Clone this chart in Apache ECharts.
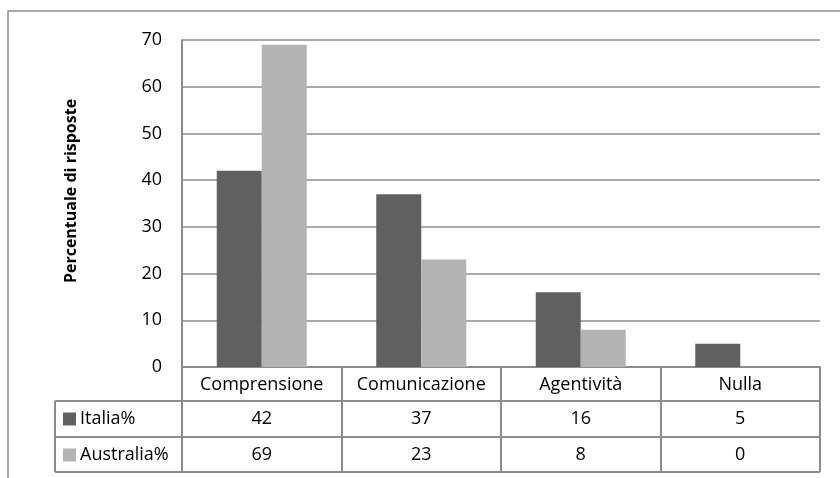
<!DOCTYPE html>
<html>
<head>
<meta charset="utf-8">
<script src="https://cdn.jsdelivr.net/npm/echarts@6/dist/echarts.min.js"></script>
<style>
  html, body { margin: 0; padding: 0; background: #ffffff; }
  #chart { width: 840px; height: 478px; }
</style>
</head>
<body>
<div id="chart"></div>
<script>
// Response categories and percentages per country
const categories = ['Comprensione', 'Comunicazione', 'Agentività', 'Nulla'];
const seriesNames = ['Italia%', 'Australia%'];
const italia = [42, 37, 16, 5];
const australia = [69, 23, 8, 0];
const yTicks = [0, 10, 20, 30, 40, 50, 60, 70];

const FONT = '"Open Sans", "Noto Sans", sans-serif';
const GRID = { left: 182, right: 20, top: 40, bottom: 111 };
const W = 840, H = 478;
const plotRight = W - GRID.right;
const axisY = H - GRID.bottom;          // y of the value 0 line / table top
const rowTops = [axisY + 34, axisY + 70, axisY + 105]; // data rows of the table
const legendColLeft = 55;
const lineColor = '#8c8c8c';

const chart = echarts.init(document.getElementById('chart'), null, { renderer: 'canvas' });

// Horizontal rules and the legend column border of the data table
const tableLines = [
  { shape: { x1: legendColLeft, y1: rowTops[0], x2: plotRight, y2: rowTops[0] } },
  { shape: { x1: legendColLeft, y1: rowTops[1], x2: plotRight, y2: rowTops[1] } },
  { shape: { x1: legendColLeft, y1: rowTops[2], x2: plotRight, y2: rowTops[2] } },
  { shape: { x1: legendColLeft, y1: rowTops[0], x2: legendColLeft, y2: rowTops[2] } }
].map(l => Object.assign({ type: 'line', silent: true, style: { stroke: lineColor, lineWidth: 2 } }, l));

function rowAxis(values, margin) {
  return {
    type: 'category',
    data: categories,
    position: 'bottom',
    axisLine: { show: false },
    axisTick: { show: false },
    axisLabel: {
      margin: margin,
      fontSize: 18,
      lineHeight: 24,
      color: '#000',
      fontFamily: FONT,
      formatter: (v, i) => String(values[i])
    }
  };
}

chart.setOption({
  animation: false,
  backgroundColor: '#ffffff',
  textStyle: { fontFamily: FONT },
  grid: GRID,
  legend: {
    data: seriesNames,
    orient: 'vertical',
    left: 63,
    top: rowTops[0] + 6,
    padding: 0,
    itemGap: 12,
    itemWidth: 13,
    itemHeight: 13,
    icon: 'rect',
    textStyle: { fontSize: 18, lineHeight: 24, color: '#000', fontFamily: FONT, padding: [0, 0, 0, -1] }
  },
  xAxis: [
    {
      type: 'category',
      data: categories,
      axisLine: { show: true, lineStyle: { color: lineColor, width: 2 } },
      axisTick: { show: true, length: rowTops[2] - axisY, lineStyle: { color: lineColor, width: 2 } },
      axisLabel: { margin: 6, fontSize: 18, lineHeight: 24, color: '#000', fontFamily: FONT, interval: 0 }
    },
    rowAxis(italia, 40),
    rowAxis(australia, 76)
  ],
  yAxis: {
    type: 'value',
    min: yTicks[0],
    max: yTicks[yTicks.length - 1],
    interval: yTicks[1] - yTicks[0],
    axisLine: { show: true, lineStyle: { color: lineColor, width: 2 } },
    axisTick: { show: false },
    splitLine: { lineStyle: { color: lineColor, width: 1.5 } },
    axisLabel: { margin: 20, fontSize: 18, color: '#000', fontFamily: FONT, padding: [6, 0, 0, 0] }
  },
  series: [
    { name: seriesNames[0], type: 'bar', data: italia, barWidth: 45, barGap: '0%', itemStyle: { color: '#606060' } },
    { name: seriesNames[1], type: 'bar', data: australia, barWidth: 45, barGap: '0%', itemStyle: { color: '#b3b3b3' } }
  ],
  graphic: [
    // chart area frame
    { type: 'rect', silent: true, shape: { x: 8, y: 11, width: 900, height: 600 },
      style: { fill: null, stroke: '#8c8c8c', lineWidth: 1.5 } },
    // value axis title
    { type: 'text', silent: true, x: 71, y: 191, rotation: Math.PI / 2,
      style: { text: 'Percentuale di risposte', fontSize: 16, fontWeight: 'bold', fill: '#000',
               fontFamily: FONT, align: 'center', verticalAlign: 'middle' } }
  ].concat(tableLines)
});
</script>
</body>
</html>
